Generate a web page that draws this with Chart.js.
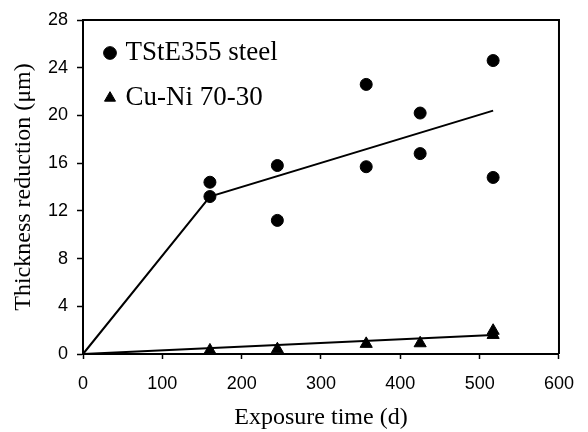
<!DOCTYPE html>
<html>
<head>
<meta charset="utf-8">
<script src="https://cdn.jsdelivr.net/npm/chart.js@4.4.1/dist/chart.umd.min.js"></script>
<style>
    html, body { margin: 0; padding: 0; background: #fff; }
</style>
</head>
<body>
<canvas id="grafica" width="588" height="432"></canvas>
<script>
// ================= DATOS =================
const diasAcero = [160, 160, 245, 245, 357, 357, 425, 425, 517, 517];
const reduccionAcero = [14.4, 13.2, 15.8, 11.2, 22.6, 15.7, 20.2, 16.8, 24.6, 14.8];
const diasCuNi = [160, 245, 357, 425, 517, 517];
const reduccionCuNi = [0.3, 0.4, 0.85, 0.9, 1.6, 1.95];

// rectas de ajuste
const ajusteAceroX = [0, 160, 517];
const ajusteAceroY = [0, 13.2, 20.4];
const ajusteCuNiX = [0, 517];
const ajusteCuNiY = [0, 1.6];

const ticksX = [0, 100, 200, 300, 400, 500, 600];
const ticksY = [0, 4, 8, 12, 16, 20, 24, 28];

const aPuntos = (xs, ys) => xs.map((x, i) => ({ x: x, y: ys[i] }));

// ================= PLUGINS =================
// Dibuja el borde superior y derecho del área del gráfico
const marcoPlugin = {
    id: 'marco',
    beforeDatasetsDraw(chart) {
        const { ctx, chartArea: a } = chart;
        ctx.save();
        ctx.strokeStyle = '#000';
        ctx.lineWidth = 2;
        ctx.beginPath();
        ctx.moveTo(a.left, a.top);
        ctx.lineTo(a.right, a.top);
        ctx.lineTo(a.right, a.bottom);
        ctx.stroke();
        ctx.restore();
    }
};

// La leyenda en 'chartArea' queda pegada arriba; se coloca dentro del área
const leyendaPlugin = {
    id: 'leyendaDentro',
    afterLayout(chart) {
        const a = chart.chartArea;
        chart.legend.left = a.left + 7;
        chart.legend.top = a.top + 1.5;
    }
};

const fuenteSerif = '"Liberation Serif", "Times New Roman", serif';
const fuenteSans = '"Liberation Sans", Arial, sans-serif';

function ejeBase(ticks, largoTick, paddingTick) {
    return {
        type: 'linear',
        min: ticks[0],
        max: ticks[ticks.length - 1],
        afterBuildTicks: (s) => { s.ticks = ticks.map(v => ({ value: v })); },
        ticks: {
            color: '#000',
            padding: paddingTick,
            font: { family: fuenteSans, size: 18 }
        },
        grid: {
            drawOnChartArea: false,
            drawTicks: true,
            tickLength: largoTick,
            tickWidth: 1.5,
            tickColor: '#000',
            color: '#000'
        },
        border: { display: true, color: '#000', width: 2 }
    };
}

const ejeX = ejeBase(ticksX, 5, 14);
ejeX.afterFit = (s) => { s.height = 78; };
ejeX.title = {
    display: true,
    text: 'Exposure time (d)',
    color: '#000',
    font: { family: fuenteSerif, size: 24 },
    padding: { top: 0, bottom: 0 }
};

const ejeY = ejeBase(ticksY, 6, 9);
ejeY.afterFit = (s) => { s.width = 83; };
ejeY.title = {
    display: true,
    text: 'Thickness reduction (μm)',
    color: '#000',
    font: { family: fuenteSerif, size: 24 },
    padding: { top: 9, bottom: 0 }
};

// ================= GRÁFICA =================
new Chart(document.getElementById('grafica').getContext('2d'), {
    type: 'scatter',
    data: {
        datasets: [
            {
                label: 'TStE355 steel',
                data: aPuntos(diasAcero, reduccionAcero),
                pointStyle: 'circle',
                pointRadius: 6,
                borderWidth: 1,
                backgroundColor: '#000',
                borderColor: '#000',
                clip: false
            },
            {
                label: 'Cu-Ni 70-30',
                data: aPuntos(diasCuNi, reduccionCuNi),
                pointStyle: 'triangle',
                pointRadius: 7,
                borderWidth: 1,
                backgroundColor: '#000',
                borderColor: '#000',
                clip: false
            },
            {
                label: '',
                data: aPuntos(ajusteAceroX, ajusteAceroY),
                showLine: true,
                pointRadius: 0,
                borderWidth: 2,
                borderColor: '#000',
                backgroundColor: '#000',
                clip: false
            },
            {
                label: '',
                data: aPuntos(ajusteCuNiX, ajusteCuNiY),
                showLine: true,
                pointRadius: 0,
                borderWidth: 2,
                borderColor: '#000',
                backgroundColor: '#000',
                clip: false
            }
        ]
    },
    options: {
        responsive: false,
        animation: false,
        layout: { padding: { top: 20, right: 25, left: 0, bottom: 0 } },
        plugins: {
            legend: {
                position: 'chartArea',
                align: 'start',
                labels: {
                    filter: (item) => item.text !== '',
                    usePointStyle: true,
                    boxWidth: 4,
                    boxHeight: 9,
                    padding: 18,
                    color: '#000',
                    font: { family: fuenteSerif, size: 27 }
                }
            },
            tooltip: { enabled: false }
        },
        scales: { x: ejeX, y: ejeY }
    },
    plugins: [marcoPlugin, leyendaPlugin]
});
</script>
</body>
</html>
